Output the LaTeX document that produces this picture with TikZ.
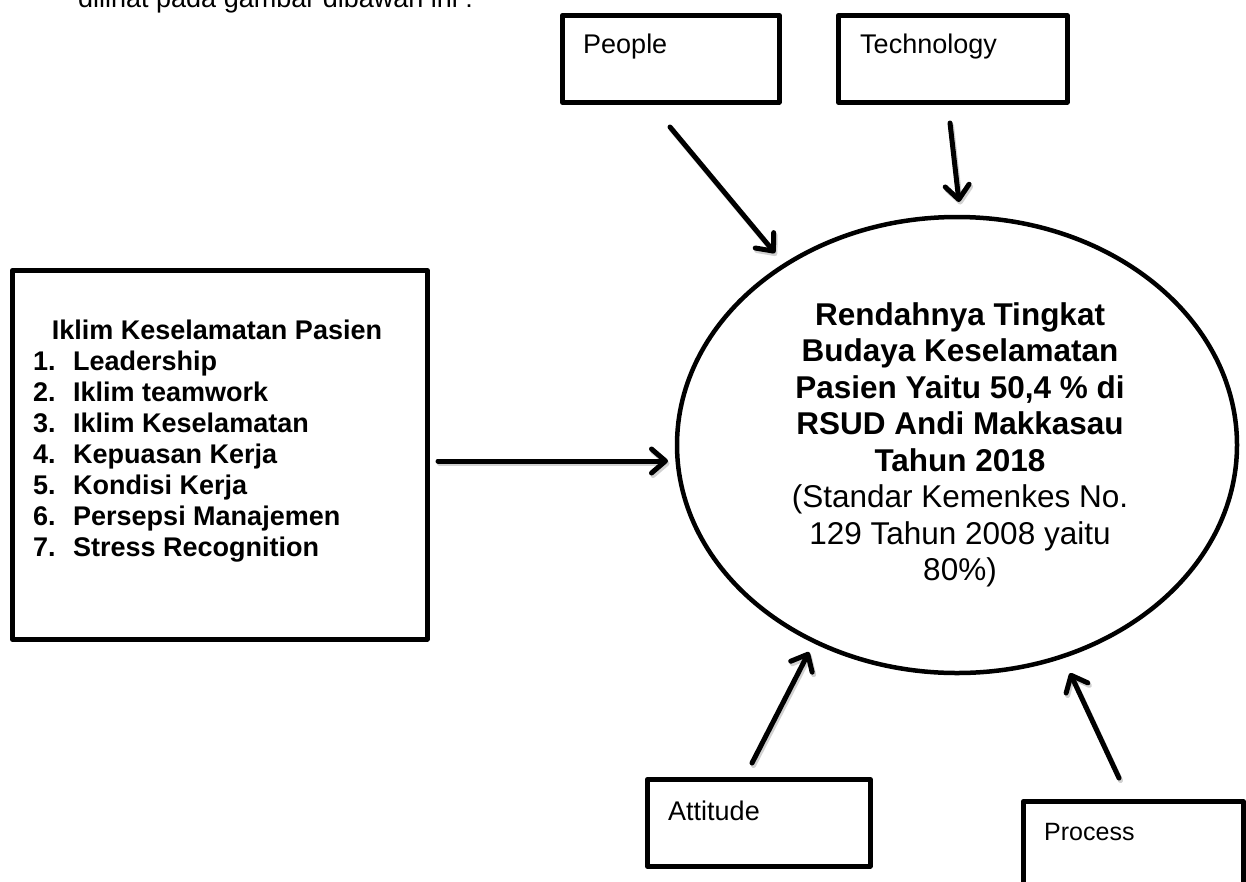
\documentclass[tikz,border=0pt]{standalone}
\usepackage{fontspec}
\setmainfont{Liberation Sans}
\usetikzlibrary{arrows.meta,shapes.geometric}
\begin{document}
\begin{tikzpicture}[x=1pt,y=-1pt,
  box/.style={draw,line width=4.5pt,line join=round,inner sep=0pt,anchor=north west},
  conn/.style={line width=5pt,line cap=round,-{Straight Barb[length=14pt,width=24pt,line cap=round,line join=round]}},
  shade/.style={conn,draw=black!18,transform canvas={shift={(1.5pt,-2.5pt)}}},
  lbl/.style={anchor=base west,inner sep=0pt,font=\fontsize{27}{31}\selectfont},
  blbl/.style={anchor=base west,inner sep=0pt,font=\fontsize{27}{31}\selectfont\bfseries}]
\useasboundingbox (0,0) rectangle (1246,881);
\clip (0,0) rectangle (1246,881);
\fill[white] (0,0) rectangle (1246,881);

% intro text (cut off at top)
\node[lbl] (intro) at (78,7) {dilihat pada gambar dibawah ini :};

% top boxes
\node[box,minimum width=217pt,minimum height=87pt] (people) at (560,13) {};
\node[lbl] (tpeople) at (583,53) {People};
\node[box,minimum width=229pt,minimum height=87pt] (tech) at (836,13) {};
\node[lbl] (ttech) at (860,53) {Technology};

% left box
\node[box,minimum width=415pt,minimum height=369pt] (iklim) at (10,268) {};
\node[anchor=base,inner sep=0pt,font=\fontsize{27}{31}\selectfont\bfseries] (ititle) at (217,339) {Iklim Keselamatan Pasien};
\foreach \i/\t [count=\k from 0] in {1/Leadership,2/Iklim teamwork,3/Iklim Keselamatan,4/Kepuasan Kerja,5/Kondisi Kerja,6/Persepsi Manajemen,7/Stress Recognition}{
  \node[blbl] (num\i) at (33,370+31*\k) {\i.};
  \node[blbl] (item\i) at (73,370+31*\k) {\t};
}

% central ellipse
\node[draw,ellipse,line width=4.5pt,minimum width=560pt,minimum height=456pt,inner sep=0pt] (ell) at (957,445) {};
\node[anchor=north,inner sep=0pt,align=center,font=\fontsize{31.5}{36.5}\selectfont] (etext) at (960,302)
  {\textbf{Rendahnya Tingkat}\\ \textbf{Budaya Keselamatan}\\ \textbf{Pasien Yaitu 50,4 \% di}\\ \textbf{RSUD Andi Makkasau}\\ \textbf{Tahun 2018}\\ (Standar Kemenkes No.\\ 129 Tahun 2008 yaitu\\ 80\%)};

% bottom boxes
\node[box,minimum width=223pt,minimum height=87pt] (att) at (645,777) {};
\node[lbl] (tatt) at (668,820) {Attitude};
\node[box,minimum width=220pt,minimum height=120pt] (proc) at (1021,799) {};
\node[lbl,font=\fontsize{25}{29}\selectfont] (tproc) at (1044,840) {Process};

% arrow end points
\coordinate (pS) at (670,127); \coordinate (pE) at (775,253);
\coordinate (tS) at (950,123); \coordinate (tE) at (959,202);
\coordinate (lS) at (438,461); \coordinate (lE) at (668,461);
\coordinate (aS) at (752,763); \coordinate (aE) at (809,652);
\coordinate (rS) at (1119,778); \coordinate (rE) at (1070,673);

\foreach \s/\e in {pS/pE,tS/tE,lS/lE,aS/aE,rS/rE}{
  \draw[shade] (\s) -- (\e);
}
\draw[conn] (pS) -- (pE);
\draw[conn] (tS) -- (tE);
\draw[conn] (lS) -- (lE);
\draw[conn] (aS) -- (aE);
\draw[conn] (rS) -- (rE);
\end{tikzpicture}
\end{document}
